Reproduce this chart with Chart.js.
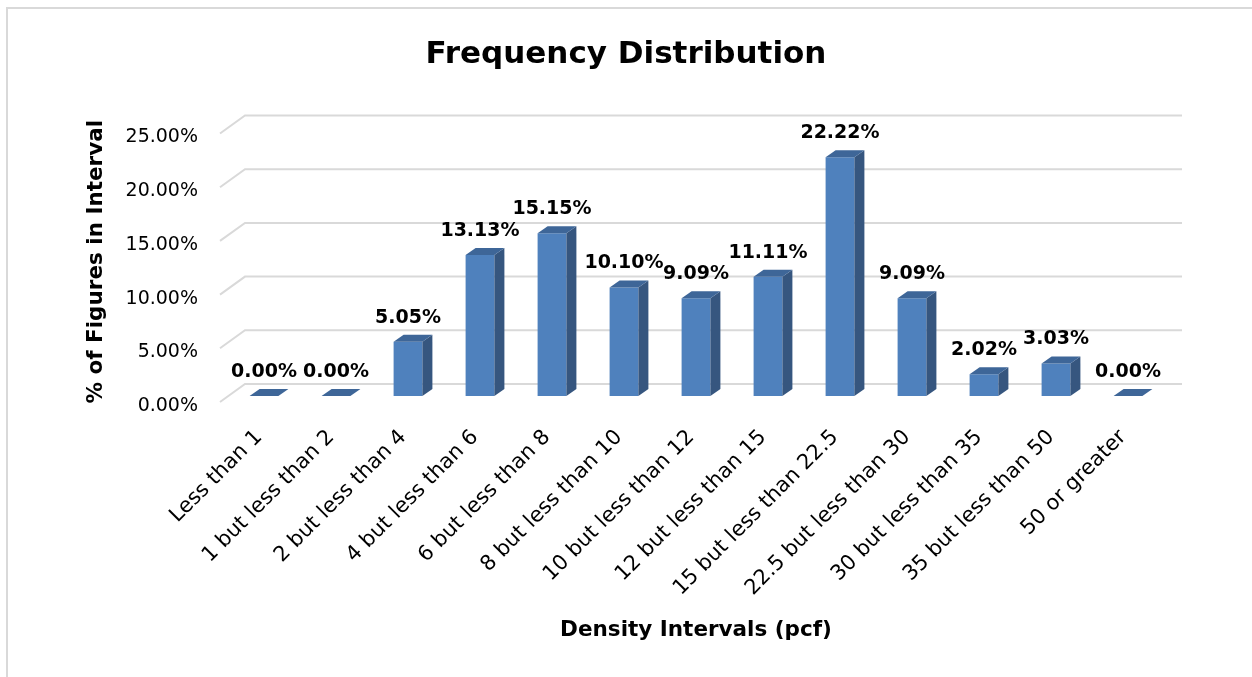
<!DOCTYPE html>
<html lang="en">
<head>
<meta charset="UTF-8">
<title>Frequency Distribution</title>
<script src="https://cdn.jsdelivr.net/npm/chart.js"></script>
<style>
  html, body { margin: 0; padding: 0; background: #fff; }
  .quadro {
    position: absolute; left: 6px; top: 7px; width: 1300px; height: 720px;
    border-left: 2px solid #d9d9d9; border-top: 2px solid #d9d9d9;
  }
  .grafico { position: absolute; left: 0; top: 0; width: 1252px; height: 677px; }
</style>
</head>
<body>
<div class="quadro"></div>
<div class="grafico"><canvas id="freqChart" width="1252" height="677"></canvas></div>

<script>
// dados
var intervalos = ["Less than 1", "1 but less than 2", "2 but less than 4", "4 but less than 6",
  "6 but less than 8", "8 but less than 10", "10 but less than 12", "12 but less than 15",
  "15 but less than 22.5", "22.5 but less than 30", "30 but less than 35", "35 but less than 50",
  "50 or greater"];
var percentuais = [0.00, 0.00, 5.05, 13.13, 15.15, 10.10, 9.09, 11.11, 22.22, 9.09, 2.02, 3.03, 0.00];
var ticksY = [0, 5, 10, 15, 20, 25];

var fonte = "'DejaVu Sans', sans-serif";
var prof = { dx: 10, dy: 7 };   // profundidade da barra (efeito 3d)

// paredes e linhas de grade em perspectiva
var grade3d = {
  id: 'grade3d',
  beforeDatasetsDraw(chart) {
    var ctx = chart.ctx, y = chart.scales.y, area = chart.chartArea;
    ctx.save();
    ctx.strokeStyle = '#d9d9d9';
    ctx.lineWidth = 2;
    ticksY.forEach(function (v) {
      var py = y.getPixelForValue(v);
      ctx.beginPath();
      ctx.moveTo(area.left - 8, py + 6);
      ctx.lineTo(area.left + 17, py - 12);
      ctx.lineTo(area.right + 18, py - 12);
      ctx.stroke();
    });
    ctx.restore();
  }
};

// faces de cima e lateral das barras + rotulos
var barras3d = {
  id: 'barras3d',
  afterDatasetsDraw(chart) {
    var ctx = chart.ctx;
    var meta = chart.getDatasetMeta(0);
    ctx.save();
    meta.data.forEach(function (bar) {
      var x1 = bar.x - bar.width / 2, x2 = bar.x + bar.width / 2;
      var topo = bar.y, base = bar.base;
      // lateral
      ctx.fillStyle = '#36567f';
      ctx.beginPath();
      ctx.moveTo(x2, topo);
      ctx.lineTo(x2 + prof.dx, topo - prof.dy);
      ctx.lineTo(x2 + prof.dx, base - prof.dy);
      ctx.lineTo(x2, base);
      ctx.closePath();
      ctx.fill();
      // topo
      ctx.fillStyle = '#3e6698';
      ctx.beginPath();
      ctx.moveTo(x1, topo);
      ctx.lineTo(x2, topo);
      ctx.lineTo(x2 + prof.dx, topo - prof.dy);
      ctx.lineTo(x1 + prof.dx, topo - prof.dy);
      ctx.closePath();
      ctx.fill();
    });
    ctx.fillStyle = '#000';
    ctx.font = 'bold 19px ' + fonte;
    ctx.textAlign = 'center';
    ctx.textBaseline = 'middle';
    meta.data.forEach(function (bar, i) {
      ctx.fillText(percentuais[i].toFixed(2) + '%', bar.x, bar.y - 24);
    });
    ctx.restore();
  }
};

const ctx = document.getElementById('freqChart');
new Chart(ctx, {
  type: 'bar',
  data: {
    labels: intervalos,
    datasets: [{
      label: '% of Figures in Interval',
      data: percentuais,
      backgroundColor: '#4f81bd',
      borderWidth: 0,
      barPercentage: 0.5,
      categoryPercentage: 0.8
    }]
  },
  options: {
    responsive: false,
    animation: false,
    layout: { padding: 0 },
    plugins: {
      legend: { display: false },
      tooltip: { enabled: false },
      title: {
        display: true,
        text: 'Frequency Distribution',
        color: '#000',
        font: { family: fonte, size: 31, weight: 'bold', lineHeight: 1.2 },
        padding: { top: 36, bottom: 54.3 }
      }
    },
    scales: {
      x: {
        grid: { display: false },
        border: { display: false },
        ticks: {
          color: '#000',
          font: { family: fonte, size: 21 },
          minRotation: 45, maxRotation: 45,
          autoSkip: false,
          padding: 21,
          labelOffset: -5
        },
        title: {
          display: true,
          text: 'Density Intervals (pcf)',
          color: '#000',
          font: { family: fonte, size: 21.5, weight: 'bold', lineHeight: 1.2 },
          padding: { top: 0, bottom: 34 }
        },
        afterFit(scale) { scale.height = 281; }
      },
      y: {
        min: 0, max: 25,
        grid: { display: false, drawTicks: false },
        border: { display: false },
        afterBuildTicks(scale) { scale.ticks = ticksY.map(function (v) { return { value: v }; }); },
        ticks: {
          color: '#000',
          font: { family: fonte, size: 19 },
          padding: 30,
          labelOffset: 10,
          callback: function (v) { return Number(v).toFixed(2) + '%'; }
        },
        title: {
          display: true,
          text: '% of Figures in Interval',
          color: '#000',
          font: { family: fonte, size: 21.5, weight: 'bold', lineHeight: 1.2 },
          padding: { top: 84, bottom: 0 }
        },
        afterFit(scale) { scale.width = 228; }
      },
      // eixo vazio a direita so para reservar a margem
      margemDireita: {
        type: 'linear',
        position: 'right',
        grid: { display: false },
        border: { display: false },
        ticks: { display: false },
        afterFit(scale) { scale.width = 88; }
      }
    }
  },
  plugins: [grade3d, barras3d]
});
</script>
</body>
</html>
